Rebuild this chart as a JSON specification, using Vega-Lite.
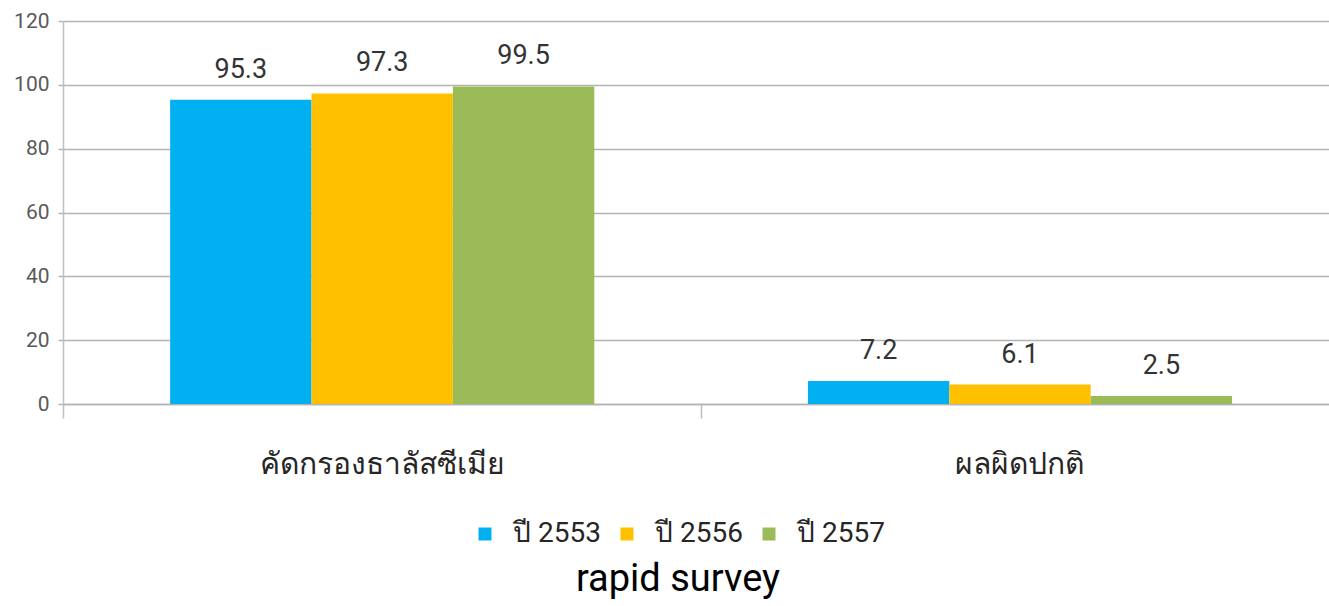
{
  "$schema": "https://vega.github.io/schema/vega-lite/v6.json",
  "width": 1266,
  "height": 383,
  "autosize": {"type": "none"},
  "padding": {"left": 63, "top": 21, "right": 0, "bottom": 202},
  "background": "white",
  "config": {
    "view": {"stroke": null},
    "font": "Roboto, sans-serif"
  },
  "data": {
    "values": [
      {"cat": "คัดกรองธาลัสซีเมีย", "year": "ปี 2553", "value": 95.3},
      {"cat": "คัดกรองธาลัสซีเมีย", "year": "ปี 2556", "value": 97.3},
      {"cat": "คัดกรองธาลัสซีเมีย", "year": "ปี 2557", "value": 99.5},
      {"cat": "ผลผิดปกติ", "year": "ปี 2553", "value": 7.2},
      {"cat": "ผลผิดปกติ", "year": "ปี 2556", "value": 6.1},
      {"cat": "ผลผิดปกติ", "year": "ปี 2557", "value": 2.5}
    ]
  },
  "encoding": {
    "x": {
      "field": "cat",
      "type": "nominal",
      "sort": null,
      "scale": {"paddingInner": 0.335, "paddingOuter": 0.16, "align": 0.525},
      "axis": {
        "title": null,
        "labelAngle": 0,
        "labelFontSize": 30,
        "labelLimit": 0,
        "labelColor": "#262626",
        "labelPadding": 31,
        "bandPosition": -0.252,
        "tickSize": 14,
        "tickColor": "#bfbfbf",
        "tickWidth": 1.5,
        "domainColor": "#b3b3b3",
        "domainWidth": 1.5,
        "grid": false
      }
    },
    "xOffset": {"field": "year", "type": "nominal", "sort": null}
  },
  "layer": [
    {
      "mark": {"type": "bar"},
      "encoding": {
        "y": {
          "field": "value",
          "type": "quantitative",
          "scale": {"domain": [0, 120], "nice": false},
          "axis": {
            "title": null,
            "values": [0, 20, 40, 60, 80, 100, 120],
            "labelFontSize": 21,
            "labelColor": "#595959",
            "labelPadding": 9,
            "tickSize": 5,
            "tickColor": "#b3b3b3",
            "tickWidth": 1.5,
            "domainColor": "#bfbfbf",
            "domainWidth": 1.5,
            "gridColor": "#b3b3b3",
            "gridWidth": 1.5
          }
        },
        "color": {
          "field": "year",
          "type": "nominal",
          "sort": null,
          "scale": {"range": ["#00B0F0", "#FFC000", "#9BBB59"]},
          "legend": {
            "orient": "none",
            "legendX": 408,
            "legendY": 499,
            "direction": "horizontal",
            "title": "rapid survey",
            "titleOrient": "bottom",
            "titleAnchor": "middle",
            "titleFontSize": 38,
            "titleFontWeight": "normal",
            "titleColor": "#000000",
            "titleLimit": 0,
            "titlePadding": 13,
            "symbolType": "square",
            "symbolSize": 169,
            "symbolStrokeWidth": 0,
            "labelFontSize": 28,
            "labelColor": "#262626",
            "columnPadding": 12,
            "labelOffset": 14
          }
        }
      }
    },
    {
      "mark": {"type": "text", "baseline": "bottom", "dy": -16, "fontSize": 27, "color": "#333333"},
      "encoding": {
        "y": {"field": "value", "type": "quantitative"},
        "text": {"field": "value", "type": "quantitative", "format": ".1f"}
      }
    }
  ]
}
